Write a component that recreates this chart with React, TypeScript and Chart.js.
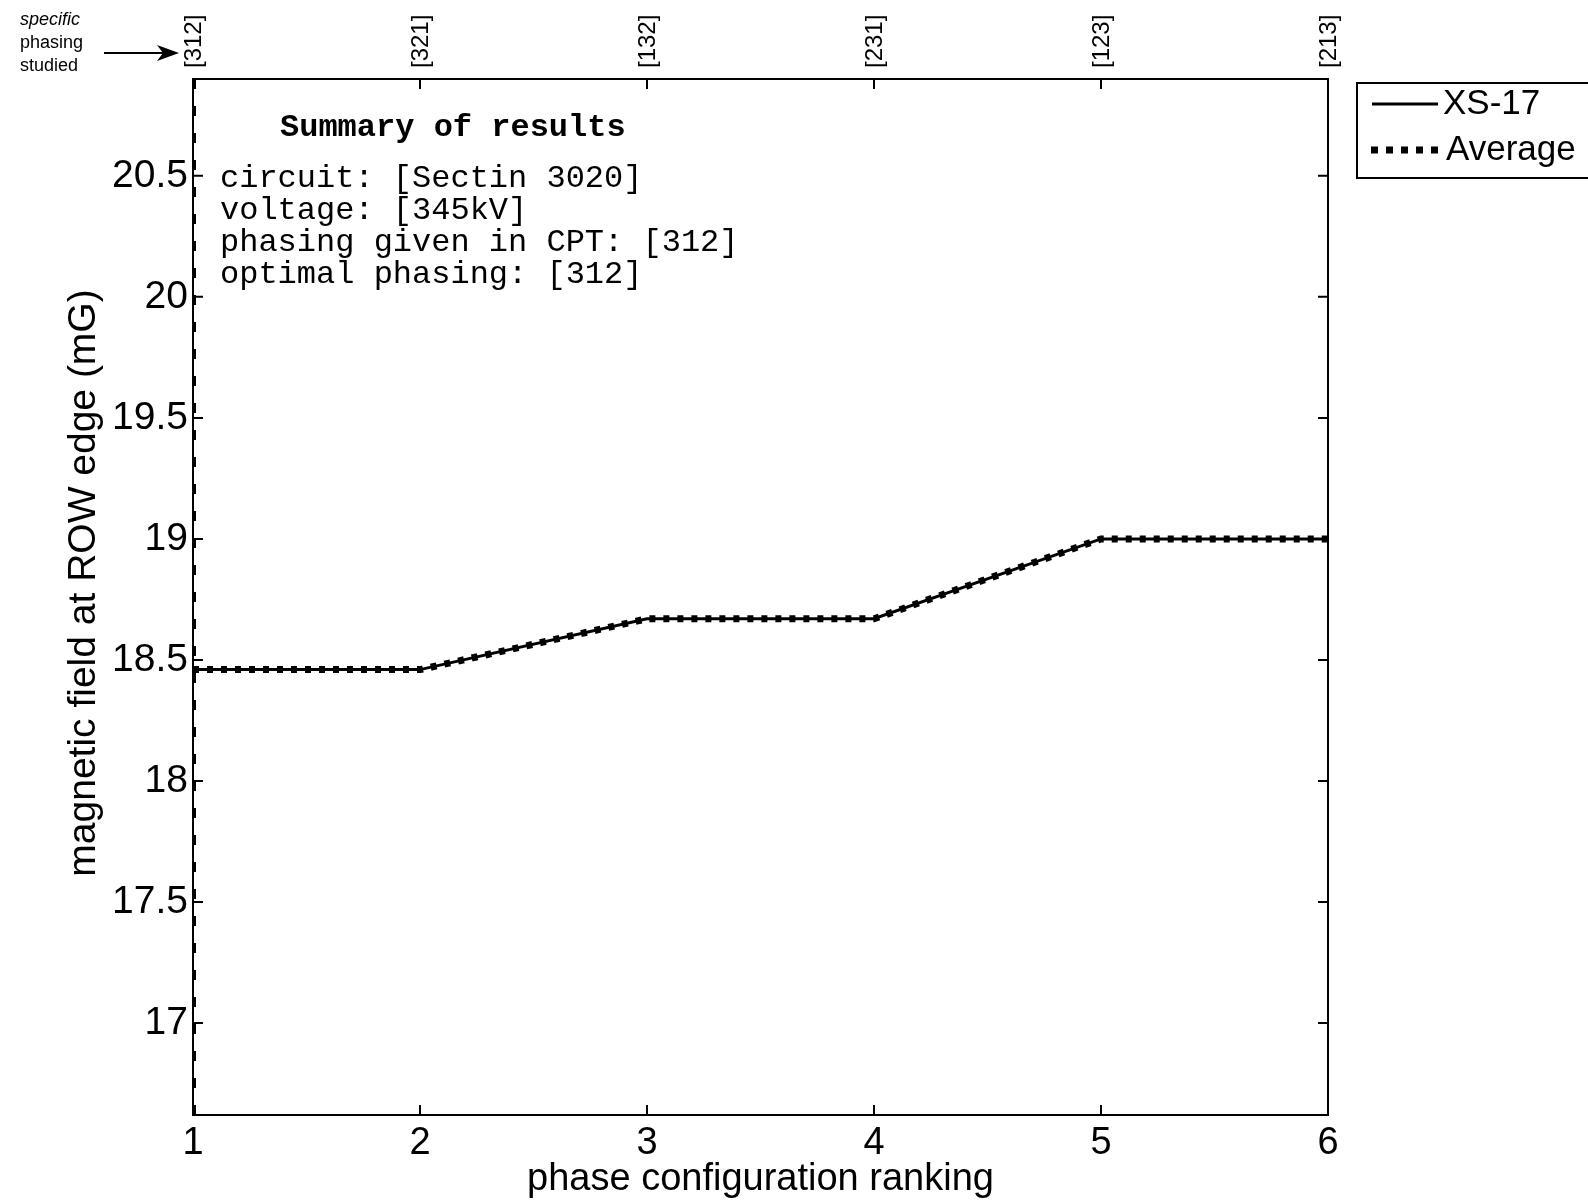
import React, { useEffect, useRef } from "react";
import { Chart, registerables } from "chart.js";

Chart.register(...registerables);

// ---- data ----
const rankings = [1, 2, 3, 4, 5, 6];
const phasingLabels = ["[312]", "[321]", "[132]", "[231]", "[123]", "[213]"];
const xs17Values = [18.46, 18.46, 18.67, 18.67, 19.0, 19.0];
const averageValues = [18.46, 18.46, 18.67, 18.67, 19.0, 19.0];
const xTickValues = [1, 2, 3, 4, 5, 6];
const yTickValues = [17, 17.5, 18, 18.5, 19, 19.5, 20, 20.5];
const seriesNames = ["XS-17", "Average"];
const summaryTitle = "Summary of results";
const summaryLines = [
  "circuit: [Sectin 3020]",
  "voltage: [345kV]",
  "phasing given in CPT: [312]",
  "optimal phasing: [312]",
];
const noteLines = ["specific", "phasing", "studied"];
const xTitle = "phase configuration ranking";
const yTitle = "magnetic field at ROW edge (mG)";
const studiedRank = 1;

const SANS = '"Liberation Sans", Arial, Helvetica, sans-serif';
const MONO = '"Liberation Mono", "Courier New", monospace';

const decorPlugin = {
  id: "decor",
  afterDraw(chart: any) {
    const ctx = chart.ctx as CanvasRenderingContext2D;
    const area = chart.chartArea;
    const xs = chart.scales.x;
    const ys = chart.scales.y;
    ctx.save();
    ctx.strokeStyle = "#000";
    ctx.fillStyle = "#000";

    // frame
    ctx.lineWidth = 2;
    ctx.setLineDash([]);
    ctx.strokeRect(area.left, area.top, area.right - area.left, area.bottom - area.top);

    // dashed marker at the studied phasing
    const sx = xs.getPixelForValue(studiedRank);
    ctx.lineWidth = 4;
    ctx.setLineDash([10, 17]);
    ctx.beginPath();
    ctx.moveTo(sx + 1, area.top);
    ctx.lineTo(sx + 1, area.bottom);
    ctx.stroke();
    ctx.setLineDash([]);

    // inward ticks
    ctx.lineWidth = 2;
    const tl = 10;
    xTickValues.forEach((v) => {
      const px = xs.getPixelForValue(v);
      ctx.beginPath();
      ctx.moveTo(px, area.bottom);
      ctx.lineTo(px, area.bottom - tl);
      ctx.moveTo(px, area.top);
      ctx.lineTo(px, area.top + tl);
      ctx.stroke();
    });
    yTickValues.forEach((v) => {
      const py = ys.getPixelForValue(v);
      ctx.beginPath();
      ctx.moveTo(area.left, py);
      ctx.lineTo(area.left + tl, py);
      ctx.moveTo(area.right, py);
      ctx.lineTo(area.right - tl, py);
      ctx.stroke();
    });

    // top phasing labels
    ctx.font = `24px ${SANS}`;
    ctx.textAlign = "left";
    ctx.textBaseline = "middle";
    rankings.forEach((r, i) => {
      const px = xs.getPixelForValue(r);
      ctx.save();
      ctx.translate(px + 1, area.top - 11);
      ctx.rotate(-Math.PI / 2);
      ctx.fillText(phasingLabels[i], 0, 0);
      ctx.restore();
    });

    // note + arrow
    ctx.font = `italic 18px ${SANS}`;
    ctx.textAlign = "left";
    ctx.fillText(noteLines[0], 20, 20);
    ctx.font = `18px ${SANS}`;
    ctx.fillText(noteLines[1], 20, 43);
    ctx.fillText(noteLines[2], 20, 66);
    ctx.lineWidth = 2;
    ctx.beginPath();
    ctx.moveTo(104, 53);
    ctx.lineTo(165, 53);
    ctx.stroke();
    ctx.beginPath();
    ctx.moveTo(179, 53);
    ctx.lineTo(157, 45);
    ctx.lineTo(163, 53);
    ctx.lineTo(157, 61);
    ctx.closePath();
    ctx.fill();

    // summary text
    ctx.font = `bold 32px ${MONO}`;
    ctx.fillText(summaryTitle, 280, 128);
    ctx.font = `32px ${MONO}`;
    summaryLines.forEach((s, i) => {
      ctx.fillText(s, 220, 179 + i * 32);
    });

    // legend
    ctx.lineWidth = 2;
    ctx.strokeRect(1357, 83, 260, 95);
    ctx.lineWidth = 3;
    ctx.beginPath();
    ctx.moveTo(1372, 104);
    ctx.lineTo(1438, 104);
    ctx.stroke();
    ctx.lineWidth = 7;
    ctx.setLineDash([7, 8]);
    ctx.beginPath();
    ctx.moveTo(1371, 150);
    ctx.lineTo(1443, 150);
    ctx.stroke();
    ctx.setLineDash([]);
    ctx.font = `35px ${SANS}`;
    ctx.fillText(seriesNames[0], 1443, 104);
    ctx.fillText(seriesNames[1], 1446, 150);

    // axis titles
    ctx.textAlign = "center";
    ctx.font = `38px ${SANS}`;
    ctx.fillText(xTitle, (area.left + area.right) / 2, 1180);
    ctx.font = `39px ${SANS}`;
    ctx.save();
    ctx.translate(84, 583);
    ctx.rotate(-Math.PI / 2);
    ctx.fillText(yTitle, 0, 0);
    ctx.restore();

    ctx.restore();
  },
};

export default function App() {
  const ref = useRef<HTMLCanvasElement | null>(null);

  useEffect(() => {
    document.body.style.margin = "0";
    const canvas = ref.current;
    if (!canvas) return;
    const chart = new Chart(canvas, {
      type: "line",
      data: {
        datasets: [
          {
            label: seriesNames[0],
            data: rankings.map((r, i) => ({ x: r, y: xs17Values[i] })),
            borderColor: "#000",
            borderWidth: 3,
            pointRadius: 0,
            tension: 0,
            order: 2,
          },
          {
            label: seriesNames[1],
            data: rankings.map((r, i) => ({ x: r, y: averageValues[i] })),
            borderColor: "#000",
            borderWidth: 7,
            borderDash: [6, 8],
            borderCapStyle: "butt",
            pointRadius: 0,
            tension: 0,
            order: 1,
          },
        ],
      },
      options: {
        responsive: false,
        animation: false,
        devicePixelRatio: 1,
        layout: { padding: { top: 79, right: 260, left: 0, bottom: 0 } },
        plugins: { legend: { display: false }, tooltip: { enabled: false } },
        scales: {
          x: {
            type: "linear",
            position: "bottom",
            min: 1,
            max: 6,
            afterFit: (s: any) => {
              s.height = 87;
            },
            afterBuildTicks: (s: any) => {
              s.ticks = xTickValues.map((v) => ({ value: v }));
            },
            grid: { display: false, drawTicks: false },
            border: { display: false },
            ticks: {
              color: "#000",
              padding: 6,
              maxRotation: 0,
              font: { family: SANS, size: 38 },
              callback: (v: any) => String(v),
            },
          },
          y: {
            type: "linear",
            min: 16.62,
            max: 20.9,
            afterFit: (s: any) => {
              s.width = 193;
            },
            afterBuildTicks: (s: any) => {
              s.ticks = yTickValues.map((v) => ({ value: v }));
            },
            grid: { display: false, drawTicks: false },
            border: { display: false },
            ticks: {
              color: "#000",
              padding: 5,
              font: { family: SANS, size: 39 },
              callback: (v: any) => String(v),
            },
          },
        },
      },
      plugins: [decorPlugin],
    });
    return () => chart.destroy();
  }, []);

  return (
    <div style={{ position: "absolute", left: 0, top: 0, width: 1588, height: 1202, background: "#fff" }}>
      <canvas ref={ref} width={1588} height={1202} style={{ width: 1588, height: 1202 }} />
    </div>
  );
}
